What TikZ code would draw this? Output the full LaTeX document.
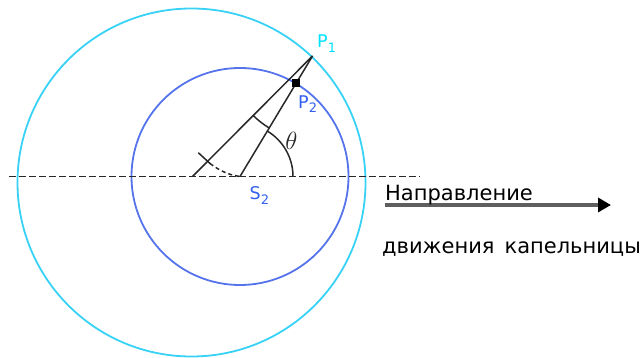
\documentclass[tikz,border=0pt]{standalone}
\usepackage{fontspec}
\setmainfont{DejaVu Sans}
\usetikzlibrary{arrows.meta}
\definecolor{outerc}{RGB}{55,210,245}
\definecolor{innerc}{RGB}{85,115,235}
\definecolor{labc}{RGB}{0,225,255}
\definecolor{labb}{RGB}{50,95,240}
\definecolor{linec}{RGB}{40,40,40}
\definecolor{shaftc}{RGB}{95,95,95}
\tikzset{
  geoline/.style={linec, line width=1.5pt},
  circleline/.style={line width=1.8pt},
  lab/.style={anchor=base west, inner sep=0pt, font=\fontsize{17.5}{17.5}\selectfont},
  bigtext/.style={anchor=base west, inner sep=0pt, font=\fontsize{21}{21}\selectfont, text=black}
}
\newcommand{\lowsub}[2]{\raisebox{-#1}{\fontsize{13}{13}\selectfont #2}}
\begin{document}
\begin{tikzpicture}[x=1pt,y=1pt]
\useasboundingbox (0,0) rectangle (644,358);
% circles
\coordinate (O) at (191.5,175.5);
\coordinate (S2) at (240,181.5);
\draw[circleline, outerc] (O) circle[radius=174];
\draw[circleline, innerc] (S2) circle[radius=108.5];
% dashed axis
\coordinate (L) at (9,181.5);
\coordinate (R) at (420,181.5);
\draw[linec, line width=1.4pt, dash pattern=on 6.5pt off 3.5pt] (L) -- (R);
% rays
\coordinate (A) at (192.5,181.5);
\coordinate (P1) at (312.5,302);
\draw[geoline] (A) -- (P1);
\draw[geoline] (S2) -- (P1);
% theta arc
\draw[geoline] (S2) ++(0:53) arc[start angle=0, end angle=59, radius=53];
% upper mark (arc about P1)
\draw[geoline] (P1) ++(225.1:84) arc[start angle=225.1, end angle=239, radius=84];
% lower mark
\coordinate (T1) at (198.3,205.3);
\coordinate (T2) at (210,194.5);
\draw[geoline] (T1) -- (T2);
\draw[geoline, dash pattern=on 4pt off 3pt] (T2) .. controls (220,187) and (229,183) .. (S2);
% P2 square
\node[fill=black, minimum size=8pt, inner sep=0pt] (P2) at (296,274.5) {};
% labels
\node[lab, text=labc] (lP1) at (317,310) {P\lowsub{5pt}{1}};
\node[lab, text=labb] (lP2) at (298,249.5) {P\lowsub{4pt}{2}};
\node[lab, text=labb] (lS2) at (249.5,158) {S\lowsub{5pt}{2}};
\node[inner sep=0pt, text=linec] (th) at (291.5,217) {\fontsize{26}{26}\selectfont$\theta$};
% direction arrow
\coordinate (AS) at (385,153);
\coordinate (AE) at (611,153);
\draw[shaftc, line width=4pt, -{Triangle[length=13pt,width=14pt,color=black]}] (AS) -- (AE);
\node[bigtext] (t1) at (385,157.5) {Направление};
\node[bigtext] (t2) at (382,104) {движения\hspace{10pt}капельницы};
\end{tikzpicture}
\end{document}
